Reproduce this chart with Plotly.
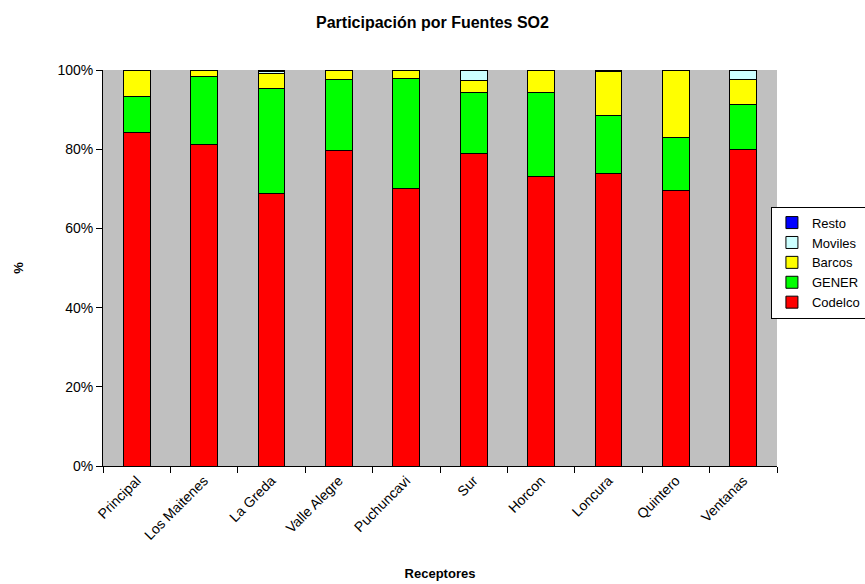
import plotly.graph_objects as go

receptores = ["Principal", "Los Maitenes", "La Greda", "Valle Alegre", "Puchuncavi",
              "Sur", "Horcon", "Loncura", "Quintero", "Ventanas"]
codelco = [84.3, 81.3, 68.7, 79.6, 70.1, 79.0, 73.2, 73.8, 69.5, 79.9]
gener   = [9.0, 17.1, 26.7, 17.9, 27.8, 15.3, 21.1, 14.8, 13.5, 11.4]
barcos  = [6.5, 1.4, 3.6, 2.3, 1.9, 3.0, 5.5, 10.9, 16.8, 6.2]
moviles = [0.1, 0.1, 0.7, 0.1, 0.1, 2.6, 0.1, 0.1, 0.1, 2.3]
resto   = [0.1, 0.1, 0.3, 0.1, 0.1, 0.1, 0.1, 0.4, 0.1, 0.2]
y_ticks = [0, 20, 40, 60, 80, 100]
y_tick_labels = ["0%", "20%", "40%", "60%", "80%", "100%"]

series = [
    ("Codelco", codelco, "#FF0000"),
    ("GENER", gener, "#00FF00"),
    ("Barcos", barcos, "#FFFF00"),
    ("Moviles", moviles, "#CCFFFF"),
    ("Resto", resto, "#0000FF"),
]

fig = go.Figure()
for name, vals, col in series:
    fig.add_trace(go.Bar(
        x=receptores, y=vals, name=name,
        marker=dict(color=col, line=dict(color="#000000", width=1)),
    ))

font_family = "Liberation Sans, Arial, sans-serif"
fig.update_layout(
    width=865, height=584,
    barmode="stack", barnorm="percent", bargap=0.6,
    paper_bgcolor="white", plot_bgcolor="#C0C0C0",
    margin=dict(l=103, r=88, t=70, b=118, pad=0, autoexpand=False),
    font=dict(family=font_family, size=14, color="black"),
    title=dict(text="<b>Participación por Fuentes SO2</b>", x=0.5, xanchor="center",
               y=1 - 22 / 584, yanchor="middle", font=dict(size=16)),
    legend=dict(x=0.991, xanchor="left", y=0.655, yanchor="top",
                traceorder="reversed", bordercolor="black", borderwidth=1,
                bgcolor="white", font=dict(size=13), tracegroupgap=0,
                itemwidth=30),
    xaxis=dict(
        title=dict(text="<b>Receptores</b>", font=dict(size=13), standoff=27),
        tickangle=-45, showline=True, linecolor="black", linewidth=1,
        ticks="outside", ticklen=6, tickcolor="black", tickson="boundaries",
        showgrid=False, mirror=False, automargin=False,
        tickfont=dict(size=14),
    ),
    yaxis=dict(
        title=dict(text="<b>%</b>", font=dict(size=13), standoff=30),
        range=[0, 100], tickvals=y_ticks, ticktext=y_tick_labels,
        showline=True, linecolor="black", linewidth=1,
        ticks="outside", ticklen=6, tickcolor="black",
        showgrid=False, zeroline=False, automargin=False,
        tickfont=dict(size=14),
    ),
)

fig.write_html("out.html")
